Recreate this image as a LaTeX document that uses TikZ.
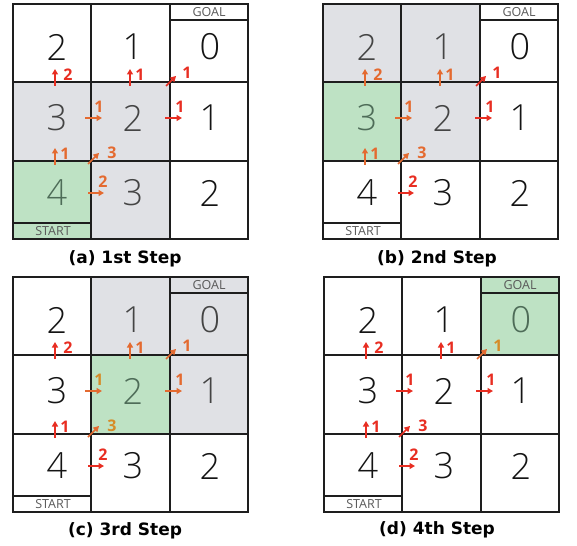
\documentclass[tikz,border=0pt]{standalone}
\usepackage{fontspec}
\setmainfont{Open Sans}
\newfontfamily\digfont{Open Sans Light}
\newfontfamily\capfont{DejaVu Sans}
\usetikzlibrary{arrows.meta}
\definecolor{cellgray}{RGB}{224,225,229}
\definecolor{cellgreen}{RGB}{190,226,196}
\definecolor{arred}{RGB}{232,46,34}
\definecolor{arorange}{RGB}{228,106,48}
\definecolor{argold}{RGB}{214,140,40}
\definecolor{gridline}{RGB}{30,30,30}
\definecolor{greendig}{RGB}{78,108,88}
\definecolor{graydig}{RGB}{68,68,68}
\definecolor{blackdig}{RGB}{20,20,20}
\tikzset{
  gridln/.style={draw=gridline, line width=1.8pt},
  digit/.style={font=\digfont\fontsize{36}{36}\selectfont, inner sep=0pt},
  arr/.style={line width=1.6pt, -{Triangle[length=5.5pt,width=6pt]}},
  lbl/.style={font=\fontsize{16}{16}\selectfont\bfseries, inner sep=0pt},
  tagtext/.style={font=\fontsize{12.5}{12.5}\selectfont, text=black!65, inner sep=0pt},
  captext/.style={font=\capfont\fontsize{17}{17}\selectfont\bfseries, inner sep=0pt},
}
\newcommand\mkfill[3]{\fill[#1] ({#2*78.33},{#3*78.33}) rectangle ++(78.33,78.33);}
\newcommand\mkgrid{%
  \draw[gridln] (0,0) rectangle (235,235);
  \draw[gridln] (78.33,0) -- (78.33,235) (156.67,0) -- (156.67,235)
                (0,78.33) -- (235,78.33) (0,156.67) -- (235,156.67)
                (156.67,16) -- (235,16) (0,219) -- (78.33,219);
  \node[tagtext] (goal) at (196,8.5) {GOAL};
  \node[tagtext] (start) at (40,227.5) {START};
}
\newcommand\mkdigits[9]{%
  \node[digit,text=#1] (d00) at (44,43) {2};
  \node[digit,text=#2] (d01) at (120,43) {1};
  \node[digit,text=#3] (d02) at (197,43) {0};
  \node[digit,text=#4] (d10) at (44,114) {3};
  \node[digit,text=#5] (d11) at (120,114) {2};
  \node[digit,text=#6] (d12) at (197,114) {1};
  \node[digit,text=#7] (d20) at (44,189) {4};
  \node[digit,text=#8] (d21) at (120,189) {3};
  \node[digit,text=#9] (d22) at (197,189) {2};
}
\newcommand\mkarrows[8]{%
  \coordinate (a0) at (42,82);   \coordinate (a1) at (42,65);
  \coordinate (b0) at (117,82);  \coordinate (b1) at (117,65);
  \coordinate (c0) at (153,82);  \coordinate (c1) at (163,72);
  \coordinate (e0) at (72,114);  \coordinate (e1) at (89,114);
  \coordinate (f0) at (152,114); \coordinate (f1) at (169,114);
  \coordinate (g0) at (42,161);  \coordinate (g1) at (42,144);
  \coordinate (h0) at (75,160);  \coordinate (h1) at (86,149);
  \coordinate (k0) at (75,189);  \coordinate (k1) at (91,189);
  \draw[arr,#1] (a0) -- (a1);
  \draw[arr,#2] (b0) -- (b1);
  \draw[arr,#3] (c0) -- (c1);
  \draw[arr,#4] (e0) -- (e1);
  \draw[arr,#5] (f0) -- (f1);
  \draw[arr,#6] (g0) -- (g1);
  \draw[arr,#7] (h0) -- (h1);
  \draw[arr,#8] (k0) -- (k1);
}
\newcommand\mklabels[8]{%
  \node[lbl,text=#1] (la) at (55,71) {2};
  \node[lbl,text=#2] (lb) at (127,71) {1};
  \node[lbl,text=#3] (lc) at (174,69) {1};
  \node[lbl,text=#4] (le) at (86,103) {1};
  \node[lbl,text=#5] (lf) at (167,103) {1};
  \node[lbl,text=#6] (lg) at (52,150) {1};
  \node[lbl,text=#7] (lh) at (99,149) {3};
  \node[lbl,text=#8] (lk) at (90,178) {2};
}
\begin{document}
\begin{tikzpicture}[x=1pt,y=-1pt]
\useasboundingbox (0,0) rectangle (577,545);
\fill[white] (0,0) rectangle (577,545);
% (a)
\begin{scope}[shift={(13,4)}, name prefix=a-]
  \mkfill{cellgray}{0}{1} \mkfill{cellgray}{1}{1} \mkfill{cellgray}{1}{2}
  \mkfill{cellgreen}{0}{2}
  \mkgrid
  \mkdigits{blackdig}{blackdig}{blackdig}{graydig}{graydig}{blackdig}{greendig}{graydig}{blackdig}
  \mkarrows{arred}{arred}{arred}{arorange}{arred}{arorange}{arorange}{arorange}
  \mklabels{arred}{arred}{arred}{arorange}{arred}{arorange}{arorange}{arorange}
  \node[captext] (cap) at (112,255) {(a) 1st Step};
\end{scope}
% (b)
\begin{scope}[shift={(323,4)}, name prefix=b-]
  \mkfill{cellgray}{0}{0} \mkfill{cellgray}{1}{0} \mkfill{cellgray}{1}{1}
  \mkfill{cellgreen}{0}{1}
  \mkgrid
  \mkdigits{graydig}{graydig}{blackdig}{greendig}{graydig}{blackdig}{blackdig}{blackdig}{blackdig}
  \mkarrows{arorange}{arorange}{arred}{arorange}{arred}{arorange}{arorange}{arred}
  \mklabels{arorange}{arorange}{arred}{arorange}{arred}{arorange}{arorange}{arred}
  \node[captext] (cap) at (114,255) {(b) 2nd Step};
\end{scope}
% (c)
\begin{scope}[shift={(13,277)}, name prefix=c-]
  \mkfill{cellgray}{1}{0} \mkfill{cellgray}{2}{0} \mkfill{cellgray}{2}{1}
  \mkfill{cellgreen}{1}{1}
  \mkgrid
  \mkdigits{blackdig}{graydig}{graydig}{blackdig}{greendig}{graydig}{blackdig}{blackdig}{blackdig}
  \mkarrows{arred}{arorange}{arorange}{arorange}{arorange}{arred}{arorange}{arred}
  \mklabels{arred}{arorange}{arorange}{argold}{arorange}{arred}{argold}{arred}
  \node[captext] (cap) at (112,254) {(c) 3rd Step};
\end{scope}
% (d)
\begin{scope}[shift={(324,277)}, name prefix=d-]
  \mkfill{cellgreen}{2}{0}
  \mkgrid
  \mkdigits{blackdig}{blackdig}{greendig}{blackdig}{blackdig}{blackdig}{blackdig}{blackdig}{blackdig}
  \mkarrows{arred}{arred}{arorange}{arred}{arred}{arred}{arred}{arred}
  \mklabels{arred}{arred}{argold}{arred}{arred}{arred}{arred}{arred}
  \node[captext] (cap) at (113,253) {(d) 4th Step};
\end{scope}
\end{tikzpicture}
\end{document}
